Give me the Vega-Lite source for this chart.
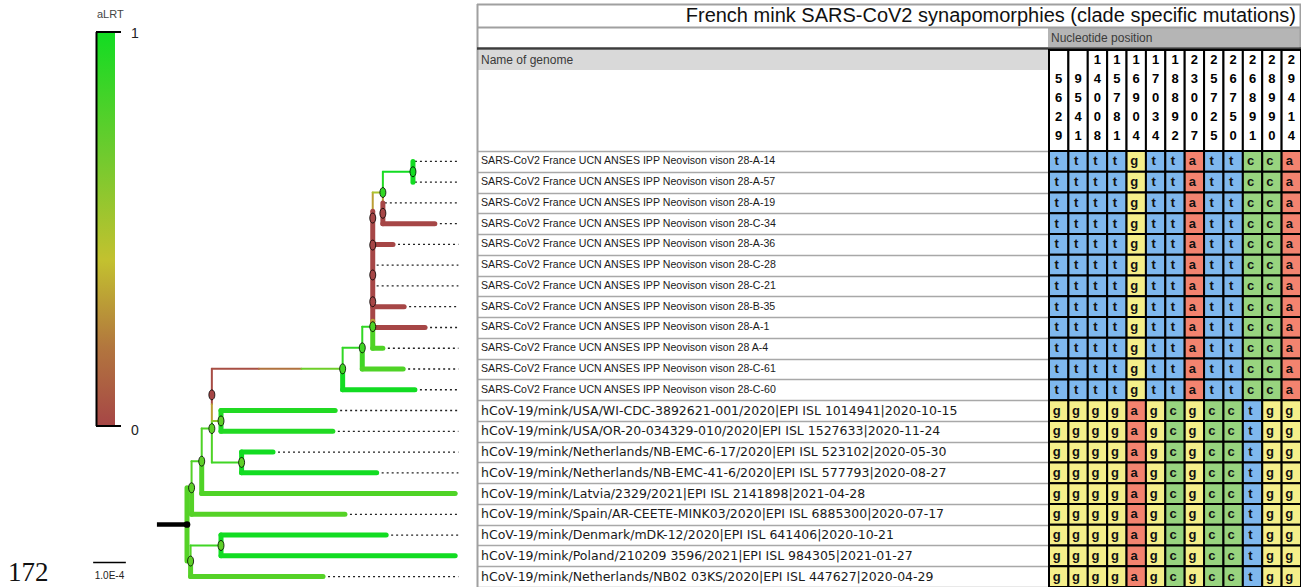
{
"$schema": "https://vega.github.io/schema/vega-lite/v6.json",
"width": 1301, "height": 587, "autosize": {"type": "none"}, "padding": 0,
"background": "white",
"config": {"view": {"stroke": null}, "font": "Liberation Sans"},
"datasets": {
"positions": [{"p":"5629"},{"p":"9541"},{"p":"14008"},{"p":"15781"},{"p":"16904"},{"p":"17034"},{"p":"18892"},{"p":"23007"},{"p":"25725"},{"p":"26750"},{"p":"26891"},{"p":"28990"},{"p":"29414"}],
"genomes": [
{"i":1,"name":"SARS-CoV2 France UCN ANSES IPP Neovison vison 28-A-14","depth":6.97},
{"i":2,"name":"SARS-CoV2 France UCN ANSES IPP Neovison vison 28-A-57","depth":6.97},
{"i":3,"name":"SARS-CoV2 France UCN ANSES IPP Neovison vison 28-A-19","depth":6.05},
{"i":4,"name":"SARS-CoV2 France UCN ANSES IPP Neovison vison 28-C-34","depth":7.58},
{"i":5,"name":"SARS-CoV2 France UCN ANSES IPP Neovison vison 28-A-36","depth":6.3},
{"i":6,"name":"SARS-CoV2 France UCN ANSES IPP Neovison vison 28-C-28","depth":5.8},
{"i":7,"name":"SARS-CoV2 France UCN ANSES IPP Neovison vison 28-C-21","depth":5.8},
{"i":8,"name":"SARS-CoV2 France UCN ANSES IPP Neovison vison 28-B-35","depth":6.64},
{"i":9,"name":"SARS-CoV2 France UCN ANSES IPP Neovison vison 28-A-1","depth":7.28},
{"i":10,"name":"SARS-CoV2 France UCN ANSES IPP Neovison vison 28 A-4","depth":5.99},
{"i":11,"name":"SARS-CoV2 France UCN ANSES IPP Neovison vison 28-C-61","depth":6.61},
{"i":12,"name":"SARS-CoV2 France UCN ANSES IPP Neovison vison 28-C-60","depth":6.97},
{"i":13,"name":"hCoV-19/mink/USA/WI-CDC-3892621-001/2020|EPI ISL 1014941|2020-10-15","depth":4.53},
{"i":14,"name":"hCoV-19/mink/USA/OR-20-034329-010/2020|EPI ISL 1527633|2020-11-24","depth":4.46},
{"i":15,"name":"hCoV-19/mink/Netherlands/NB-EMC-6-17/2020|EPI ISL 523102|2020-05-30","depth":2.63},
{"i":16,"name":"hCoV-19/mink/Netherlands/NB-EMC-41-6/2020|EPI ISL 577793|2020-08-27","depth":5.8},
{"i":17,"name":"hCoV-19/mink/Latvia/2329/2021|EPI ISL 2141898|2021-04-28","depth":8.2},
{"i":18,"name":"hCoV-19/mink/Spain/AR-CEETE-MINK03/2020|EPI ISL 6885300|2020-07-17","depth":4.83},
{"i":19,"name":"hCoV-19/mink/Denmark/mDK-12/2020|EPI ISL 641406|2020-10-21","depth":6.09},
{"i":20,"name":"hCoV-19/mink/Poland/210209 3596/2021|EPI ISL 984305|2021-01-27","depth":8.2},
{"i":21,"name":"hCoV-19/mink/Netherlands/NB02 03KS/2020|EPI ISL 447627|2020-04-29","depth":4.16}
],
"cells": [
{"i":1,"p":"5629","b":"t"},{"i":1,"p":"9541","b":"t"},{"i":1,"p":"14008","b":"t"},{"i":1,"p":"15781","b":"t"},{"i":1,"p":"16904","b":"g"},{"i":1,"p":"17034","b":"t"},{"i":1,"p":"18892","b":"t"},{"i":1,"p":"23007","b":"a"},{"i":1,"p":"25725","b":"t"},{"i":1,"p":"26750","b":"t"},{"i":1,"p":"26891","b":"c"},{"i":1,"p":"28990","b":"c"},{"i":1,"p":"29414","b":"a"},
{"i":2,"p":"5629","b":"t"},{"i":2,"p":"9541","b":"t"},{"i":2,"p":"14008","b":"t"},{"i":2,"p":"15781","b":"t"},{"i":2,"p":"16904","b":"g"},{"i":2,"p":"17034","b":"t"},{"i":2,"p":"18892","b":"t"},{"i":2,"p":"23007","b":"a"},{"i":2,"p":"25725","b":"t"},{"i":2,"p":"26750","b":"t"},{"i":2,"p":"26891","b":"c"},{"i":2,"p":"28990","b":"c"},{"i":2,"p":"29414","b":"a"},
{"i":3,"p":"5629","b":"t"},{"i":3,"p":"9541","b":"t"},{"i":3,"p":"14008","b":"t"},{"i":3,"p":"15781","b":"t"},{"i":3,"p":"16904","b":"g"},{"i":3,"p":"17034","b":"t"},{"i":3,"p":"18892","b":"t"},{"i":3,"p":"23007","b":"a"},{"i":3,"p":"25725","b":"t"},{"i":3,"p":"26750","b":"t"},{"i":3,"p":"26891","b":"c"},{"i":3,"p":"28990","b":"c"},{"i":3,"p":"29414","b":"a"},
{"i":4,"p":"5629","b":"t"},{"i":4,"p":"9541","b":"t"},{"i":4,"p":"14008","b":"t"},{"i":4,"p":"15781","b":"t"},{"i":4,"p":"16904","b":"g"},{"i":4,"p":"17034","b":"t"},{"i":4,"p":"18892","b":"t"},{"i":4,"p":"23007","b":"a"},{"i":4,"p":"25725","b":"t"},{"i":4,"p":"26750","b":"t"},{"i":4,"p":"26891","b":"c"},{"i":4,"p":"28990","b":"c"},{"i":4,"p":"29414","b":"a"},
{"i":5,"p":"5629","b":"t"},{"i":5,"p":"9541","b":"t"},{"i":5,"p":"14008","b":"t"},{"i":5,"p":"15781","b":"t"},{"i":5,"p":"16904","b":"g"},{"i":5,"p":"17034","b":"t"},{"i":5,"p":"18892","b":"t"},{"i":5,"p":"23007","b":"a"},{"i":5,"p":"25725","b":"t"},{"i":5,"p":"26750","b":"t"},{"i":5,"p":"26891","b":"c"},{"i":5,"p":"28990","b":"c"},{"i":5,"p":"29414","b":"a"},
{"i":6,"p":"5629","b":"t"},{"i":6,"p":"9541","b":"t"},{"i":6,"p":"14008","b":"t"},{"i":6,"p":"15781","b":"t"},{"i":6,"p":"16904","b":"g"},{"i":6,"p":"17034","b":"t"},{"i":6,"p":"18892","b":"t"},{"i":6,"p":"23007","b":"a"},{"i":6,"p":"25725","b":"t"},{"i":6,"p":"26750","b":"t"},{"i":6,"p":"26891","b":"c"},{"i":6,"p":"28990","b":"c"},{"i":6,"p":"29414","b":"a"},
{"i":7,"p":"5629","b":"t"},{"i":7,"p":"9541","b":"t"},{"i":7,"p":"14008","b":"t"},{"i":7,"p":"15781","b":"t"},{"i":7,"p":"16904","b":"g"},{"i":7,"p":"17034","b":"t"},{"i":7,"p":"18892","b":"t"},{"i":7,"p":"23007","b":"a"},{"i":7,"p":"25725","b":"t"},{"i":7,"p":"26750","b":"t"},{"i":7,"p":"26891","b":"c"},{"i":7,"p":"28990","b":"c"},{"i":7,"p":"29414","b":"a"},
{"i":8,"p":"5629","b":"t"},{"i":8,"p":"9541","b":"t"},{"i":8,"p":"14008","b":"t"},{"i":8,"p":"15781","b":"t"},{"i":8,"p":"16904","b":"g"},{"i":8,"p":"17034","b":"t"},{"i":8,"p":"18892","b":"t"},{"i":8,"p":"23007","b":"a"},{"i":8,"p":"25725","b":"t"},{"i":8,"p":"26750","b":"t"},{"i":8,"p":"26891","b":"c"},{"i":8,"p":"28990","b":"c"},{"i":8,"p":"29414","b":"a"},
{"i":9,"p":"5629","b":"t"},{"i":9,"p":"9541","b":"t"},{"i":9,"p":"14008","b":"t"},{"i":9,"p":"15781","b":"t"},{"i":9,"p":"16904","b":"g"},{"i":9,"p":"17034","b":"t"},{"i":9,"p":"18892","b":"t"},{"i":9,"p":"23007","b":"a"},{"i":9,"p":"25725","b":"t"},{"i":9,"p":"26750","b":"t"},{"i":9,"p":"26891","b":"c"},{"i":9,"p":"28990","b":"c"},{"i":9,"p":"29414","b":"a"},
{"i":10,"p":"5629","b":"t"},{"i":10,"p":"9541","b":"t"},{"i":10,"p":"14008","b":"t"},{"i":10,"p":"15781","b":"t"},{"i":10,"p":"16904","b":"g"},{"i":10,"p":"17034","b":"t"},{"i":10,"p":"18892","b":"t"},{"i":10,"p":"23007","b":"a"},{"i":10,"p":"25725","b":"t"},{"i":10,"p":"26750","b":"t"},{"i":10,"p":"26891","b":"c"},{"i":10,"p":"28990","b":"c"},{"i":10,"p":"29414","b":"a"},
{"i":11,"p":"5629","b":"t"},{"i":11,"p":"9541","b":"t"},{"i":11,"p":"14008","b":"t"},{"i":11,"p":"15781","b":"t"},{"i":11,"p":"16904","b":"g"},{"i":11,"p":"17034","b":"t"},{"i":11,"p":"18892","b":"t"},{"i":11,"p":"23007","b":"a"},{"i":11,"p":"25725","b":"t"},{"i":11,"p":"26750","b":"t"},{"i":11,"p":"26891","b":"c"},{"i":11,"p":"28990","b":"c"},{"i":11,"p":"29414","b":"a"},
{"i":12,"p":"5629","b":"t"},{"i":12,"p":"9541","b":"t"},{"i":12,"p":"14008","b":"t"},{"i":12,"p":"15781","b":"t"},{"i":12,"p":"16904","b":"g"},{"i":12,"p":"17034","b":"t"},{"i":12,"p":"18892","b":"t"},{"i":12,"p":"23007","b":"a"},{"i":12,"p":"25725","b":"t"},{"i":12,"p":"26750","b":"t"},{"i":12,"p":"26891","b":"c"},{"i":12,"p":"28990","b":"c"},{"i":12,"p":"29414","b":"a"},
{"i":13,"p":"5629","b":"g"},{"i":13,"p":"9541","b":"g"},{"i":13,"p":"14008","b":"g"},{"i":13,"p":"15781","b":"g"},{"i":13,"p":"16904","b":"a"},{"i":13,"p":"17034","b":"g"},{"i":13,"p":"18892","b":"c"},{"i":13,"p":"23007","b":"g"},{"i":13,"p":"25725","b":"c"},{"i":13,"p":"26750","b":"c"},{"i":13,"p":"26891","b":"t"},{"i":13,"p":"28990","b":"g"},{"i":13,"p":"29414","b":"g"},
{"i":14,"p":"5629","b":"g"},{"i":14,"p":"9541","b":"g"},{"i":14,"p":"14008","b":"g"},{"i":14,"p":"15781","b":"g"},{"i":14,"p":"16904","b":"a"},{"i":14,"p":"17034","b":"g"},{"i":14,"p":"18892","b":"c"},{"i":14,"p":"23007","b":"g"},{"i":14,"p":"25725","b":"c"},{"i":14,"p":"26750","b":"c"},{"i":14,"p":"26891","b":"t"},{"i":14,"p":"28990","b":"g"},{"i":14,"p":"29414","b":"g"},
{"i":15,"p":"5629","b":"g"},{"i":15,"p":"9541","b":"g"},{"i":15,"p":"14008","b":"g"},{"i":15,"p":"15781","b":"g"},{"i":15,"p":"16904","b":"a"},{"i":15,"p":"17034","b":"g"},{"i":15,"p":"18892","b":"c"},{"i":15,"p":"23007","b":"g"},{"i":15,"p":"25725","b":"c"},{"i":15,"p":"26750","b":"c"},{"i":15,"p":"26891","b":"t"},{"i":15,"p":"28990","b":"g"},{"i":15,"p":"29414","b":"g"},
{"i":16,"p":"5629","b":"g"},{"i":16,"p":"9541","b":"g"},{"i":16,"p":"14008","b":"g"},{"i":16,"p":"15781","b":"g"},{"i":16,"p":"16904","b":"a"},{"i":16,"p":"17034","b":"g"},{"i":16,"p":"18892","b":"c"},{"i":16,"p":"23007","b":"g"},{"i":16,"p":"25725","b":"c"},{"i":16,"p":"26750","b":"c"},{"i":16,"p":"26891","b":"t"},{"i":16,"p":"28990","b":"g"},{"i":16,"p":"29414","b":"g"},
{"i":17,"p":"5629","b":"g"},{"i":17,"p":"9541","b":"g"},{"i":17,"p":"14008","b":"g"},{"i":17,"p":"15781","b":"g"},{"i":17,"p":"16904","b":"a"},{"i":17,"p":"17034","b":"g"},{"i":17,"p":"18892","b":"c"},{"i":17,"p":"23007","b":"g"},{"i":17,"p":"25725","b":"c"},{"i":17,"p":"26750","b":"c"},{"i":17,"p":"26891","b":"t"},{"i":17,"p":"28990","b":"g"},{"i":17,"p":"29414","b":"g"},
{"i":18,"p":"5629","b":"g"},{"i":18,"p":"9541","b":"g"},{"i":18,"p":"14008","b":"g"},{"i":18,"p":"15781","b":"g"},{"i":18,"p":"16904","b":"a"},{"i":18,"p":"17034","b":"g"},{"i":18,"p":"18892","b":"c"},{"i":18,"p":"23007","b":"g"},{"i":18,"p":"25725","b":"c"},{"i":18,"p":"26750","b":"c"},{"i":18,"p":"26891","b":"t"},{"i":18,"p":"28990","b":"g"},{"i":18,"p":"29414","b":"g"},
{"i":19,"p":"5629","b":"g"},{"i":19,"p":"9541","b":"g"},{"i":19,"p":"14008","b":"g"},{"i":19,"p":"15781","b":"g"},{"i":19,"p":"16904","b":"a"},{"i":19,"p":"17034","b":"g"},{"i":19,"p":"18892","b":"c"},{"i":19,"p":"23007","b":"g"},{"i":19,"p":"25725","b":"c"},{"i":19,"p":"26750","b":"c"},{"i":19,"p":"26891","b":"t"},{"i":19,"p":"28990","b":"g"},{"i":19,"p":"29414","b":"g"},
{"i":20,"p":"5629","b":"g"},{"i":20,"p":"9541","b":"g"},{"i":20,"p":"14008","b":"g"},{"i":20,"p":"15781","b":"g"},{"i":20,"p":"16904","b":"a"},{"i":20,"p":"17034","b":"g"},{"i":20,"p":"18892","b":"c"},{"i":20,"p":"23007","b":"g"},{"i":20,"p":"25725","b":"c"},{"i":20,"p":"26750","b":"c"},{"i":20,"p":"26891","b":"t"},{"i":20,"p":"28990","b":"g"},{"i":20,"p":"29414","b":"g"},
{"i":21,"p":"5629","b":"g"},{"i":21,"p":"9541","b":"g"},{"i":21,"p":"14008","b":"g"},{"i":21,"p":"15781","b":"g"},{"i":21,"p":"16904","b":"a"},{"i":21,"p":"17034","b":"g"},{"i":21,"p":"18892","b":"c"},{"i":21,"p":"23007","b":"g"},{"i":21,"p":"25725","b":"c"},{"i":21,"p":"26750","b":"c"},{"i":21,"p":"26891","b":"t"},{"i":21,"p":"28990","b":"g"},{"i":21,"p":"29414","b":"g"}
],
"branches": [
{"x":0,"x2":0,"y":16.72,"y2":20.25,"s":0.78,"k":"thick"},
{"x":0,"x2":0.14,"y":16.72,"y2":16.72,"s":0.78,"k":"thin"},
{"x":0.14,"x2":0.14,"y":15.44,"y2":16.72,"s":0.78,"k":"thin"},
{"x":0.14,"x2":0.14,"y":16.72,"y2":18,"s":0.78,"k":"thick"},
{"x":0.14,"x2":4.83,"y":18,"y2":18,"s":0.78,"k":"thick"},
{"x":0.14,"x2":0.45,"y":15.44,"y2":15.44,"s":0.8,"k":"thin"},
{"x":0.45,"x2":0.45,"y":13.87,"y2":15.44,"s":0.8,"k":"thin"},
{"x":0.45,"x2":0.45,"y":15.44,"y2":17,"s":0.8,"k":"thick"},
{"x":0.45,"x2":8.2,"y":17,"y2":17,"s":0.8,"k":"thick"},
{"x":0.45,"x2":0.76,"y":13.87,"y2":13.87,"s":0.8,"k":"thin"},
{"x":0.76,"x2":0.76,"y":13.5,"y2":15.5,"s":0.8,"k":"thin"},
{"x":0.76,"x2":1.67,"y":15.5,"y2":15.5,"s":0.85,"k":"thin"},
{"x":1.67,"x2":1.67,"y":15,"y2":16,"s":1,"k":"thick"},
{"x":1.67,"x2":2.63,"y":15,"y2":15,"s":1,"k":"thick"},
{"x":1.67,"x2":5.8,"y":16,"y2":16,"s":1,"k":"thick"},
{"x":0.76,"x2":0.76,"y":10.99,"y2":12.7,"s":0.02,"k":"thin"},
{"x":0.76,"x2":0.76,"y":12.7,"y2":13.5,"s":0.3,"k":"thin"},
{"x":0.76,"x2":1.04,"y":13.5,"y2":13.5,"s":0.6,"k":"thin"},
{"x":1.04,"x2":1.04,"y":13,"y2":14,"s":0.95,"k":"thick"},
{"x":1.04,"x2":4.53,"y":13,"y2":13,"s":0.95,"k":"thick"},
{"x":1.04,"x2":4.46,"y":14,"y2":14,"s":0.95,"k":"thick"},
{"x":0.76,"x2":2.2,"y":10.99,"y2":10.99,"s":0.03,"k":"thin"},
{"x":2.2,"x2":3.5,"y":10.99,"y2":10.99,"s":0.15,"k":"thin"},
{"x":3.5,"x2":4.76,"y":10.99,"y2":10.99,"s":0.7,"k":"thin"},
{"x":4.76,"x2":4.76,"y":9.98,"y2":10.99,"s":0.9,"k":"thin"},
{"x":4.76,"x2":4.76,"y":10.99,"y2":12,"s":1,"k":"thick"},
{"x":4.76,"x2":6.97,"y":12,"y2":12,"s":1,"k":"thick"},
{"x":4.76,"x2":5.36,"y":9.98,"y2":9.98,"s":0.9,"k":"thin"},
{"x":5.36,"x2":5.36,"y":8.96,"y2":9.98,"s":0.9,"k":"thin"},
{"x":5.36,"x2":5.36,"y":9.98,"y2":11,"s":0.85,"k":"thick"},
{"x":5.36,"x2":6.61,"y":11,"y2":11,"s":0.8,"k":"thick"},
{"x":5.36,"x2":5.68,"y":8.96,"y2":8.96,"s":0.9,"k":"thin"},
{"x":5.68,"x2":5.68,"y":2.5,"y2":3.4,"s":0.3,"k":"thin"},
{"x":5.68,"x2":5.68,"y":3.4,"y2":8.7,"s":0,"k":"thick"},
{"x":5.68,"x2":5.68,"y":8.7,"y2":8.96,"s":0.3,"k":"thick"},
{"x":5.68,"x2":5.68,"y":8.96,"y2":10,"s":0.8,"k":"thick"},
{"x":5.68,"x2":5.99,"y":10,"y2":10,"s":0.8,"k":"thick"},
{"x":5.68,"x2":7.28,"y":9,"y2":9,"s":0,"k":"thick"},
{"x":5.68,"x2":6.64,"y":8,"y2":8,"s":0,"k":"thick"},
{"x":5.68,"x2":6.3,"y":5,"y2":5,"s":0,"k":"thick"},
{"x":5.68,"x2":5.99,"y":2.5,"y2":2.5,"s":0.5,"k":"thin"},
{"x":5.99,"x2":5.99,"y":1.5,"y2":2.5,"s":0.95,"k":"thin"},
{"x":5.99,"x2":5.99,"y":2.5,"y2":3,"s":0.3,"k":"thin"},
{"x":5.99,"x2":5.99,"y":3,"y2":4,"s":0,"k":"thick"},
{"x":5.99,"x2":7.58,"y":4,"y2":4,"s":0,"k":"thick"},
{"x":5.99,"x2":6.91,"y":1.5,"y2":1.5,"s":1,"k":"thin"},
{"x":6.91,"x2":6.91,"y":1,"y2":2,"s":1,"k":"thick"},
{"x":0,"x2":0.11,"y":20.25,"y2":20.25,"s":0.78,"k":"thin"},
{"x":0.11,"x2":0.11,"y":19.5,"y2":20.25,"s":0.78,"k":"thin"},
{"x":0.11,"x2":0.11,"y":20.25,"y2":21,"s":0.78,"k":"thick"},
{"x":0.11,"x2":4.16,"y":21,"y2":21,"s":0.78,"k":"thick"},
{"x":0.11,"x2":1.04,"y":19.5,"y2":19.5,"s":0.85,"k":"thin"},
{"x":1.04,"x2":1.04,"y":19,"y2":20,"s":1,"k":"thick"},
{"x":1.04,"x2":6.09,"y":19,"y2":19,"s":1,"k":"thick"},
{"x":1.04,"x2":8.2,"y":20,"y2":20,"s":1,"k":"thick"}
],
"nodes": [
{"x":6.91,"y":1.5,"s":1},{"x":5.99,"y":2.5,"s":0.9},{"x":5.99,"y":3.5,"s":0},
{"x":5.68,"y":3.73,"s":0},{"x":5.68,"y":5.03,"s":0},{"x":5.68,"y":6.47,"s":0},{"x":5.68,"y":7.76,"s":0},{"x":5.68,"y":8.96,"s":0.8},
{"x":5.36,"y":9.98,"s":0.85},{"x":4.76,"y":10.99,"s":0.85},{"x":0.76,"y":12.245,"s":0},{"x":1.04,"y":13.5,"s":0.75},
{"x":0.76,"y":13.87,"s":0.75},{"x":1.67,"y":15.5,"s":0.75},{"x":0.45,"y":15.44,"s":0.75},{"x":0.14,"y":16.72,"s":0.75},
{"x":1.04,"y":19.5,"s":0.75},{"x":0.11,"y":20.25,"s":0.75}
]
},
"resolve": {"scale": {"x": "independent", "y": "independent", "color": "independent", "fill": "independent", "size": "independent"}, "axis": {"x": "independent", "y": "independent"}},
"layer": [
{
"layer": [
{"data": {"values": [{"x":1048,"x2":1301,"y":28,"y2":47}]}, "mark": {"type": "rect", "fill": "#b5b5b5"},
 "encoding": {"x": {"field": "x", "type": "quantitative", "scale": {"domain": [0,1301], "range": [0,1301], "zero": false, "nice": false}, "axis": null}, "x2": {"field": "x2"},
  "y": {"field": "y", "type": "quantitative", "scale": {"domain": [0,587], "range": [0,587], "zero": false, "nice": false}, "axis": null}, "y2": {"field": "y2"}}},
{"data": {"values": [{"x":477,"x2":1048,"y":50,"y2":70}]}, "mark": {"type": "rect", "fill": "#d9d9d9"},
 "encoding": {"x": {"field": "x", "type": "quantitative", "scale": {"domain": [0,1301], "range": [0,1301], "zero": false, "nice": false}, "axis": null}, "x2": {"field": "x2"},
  "y": {"field": "y", "type": "quantitative", "scale": {"domain": [0,587], "range": [0,587], "zero": false, "nice": false}, "axis": null}, "y2": {"field": "y2"}}},
{"data": {"values": [{"x":96,"x2":115,"y":32,"y2":426}]}, "mark": {"type": "rect", "fill": {"gradient": "linear", "x1": 0, "y1": 0, "x2": 0, "y2": 1, "stops": [{"offset": 0, "color": "#12dc22"}, {"offset": 0.3, "color": "#6ccb2e"}, {"offset": 0.58, "color": "#c3c12f"}, {"offset": 0.8, "color": "#b2763e"}, {"offset": 1, "color": "#a64646"}]}},
 "encoding": {"x": {"field": "x", "type": "quantitative", "scale": {"domain": [0,1301], "range": [0,1301], "zero": false, "nice": false}, "axis": null}, "x2": {"field": "x2"},
  "y": {"field": "y", "type": "quantitative", "scale": {"domain": [0,587], "range": [0,587], "zero": false, "nice": false}, "axis": null}, "y2": {"field": "y2"}}},
{"data": {"values": [{"x":477,"x2":1301,"y":4.5,"y2":4.5},{"x":477,"x2":1301,"y":27.5,"y2":27.5},{"x":477.5,"x2":477.5,"y":4,"y2":587},{"x":1300.5,"x2":1300.5,"y":4,"y2":587}]}, "mark": {"type": "rule", "color": "#a0a0a0", "strokeWidth": 2},
 "encoding": {"x": {"field": "x", "type": "quantitative", "scale": {"domain": [0,1301], "range": [0,1301], "zero": false, "nice": false}, "axis": null}, "x2": {"field": "x2"},
  "y": {"field": "y", "type": "quantitative", "scale": {"domain": [0,587], "range": [0,587], "zero": false, "nice": false}, "axis": null}, "y2": {"field": "y2"}}},
{"data": {"values": [{"x":477,"x2":1301,"y":48.5,"y2":48.5}]}, "mark": {"type": "rule", "color": "#3c3c3c", "strokeWidth": 2.5},
 "encoding": {"x": {"field": "x", "type": "quantitative", "scale": {"domain": [0,1301], "range": [0,1301], "zero": false, "nice": false}, "axis": null}, "x2": {"field": "x2"},
  "y": {"field": "y", "type": "quantitative", "scale": {"domain": [0,587], "range": [0,587], "zero": false, "nice": false}, "axis": null}, "y2": {"field": "y2"}}},
{"data": {"values": [{"x":96.5,"x2":96.5,"y":32,"y2":426},{"x":96,"x2":121,"y":32,"y2":32},{"x":96,"x2":121,"y":426,"y2":426}]}, "mark": {"type": "rule", "color": "#000", "strokeWidth": 2},
 "encoding": {"x": {"field": "x", "type": "quantitative", "scale": {"domain": [0,1301], "range": [0,1301], "zero": false, "nice": false}, "axis": null}, "x2": {"field": "x2"},
  "y": {"field": "y", "type": "quantitative", "scale": {"domain": [0,587], "range": [0,587], "zero": false, "nice": false}, "axis": null}, "y2": {"field": "y2"}}},
{"data": {"values": [{"x":1296,"y":16,"t":"French mink SARS-CoV2 synapomorphies (clade specific mutations)"}]}, "mark": {"type": "text", "align": "right", "baseline": "middle", "fontSize": 20, "color": "#111"},
 "encoding": {"x": {"field": "x", "type": "quantitative", "scale": {"domain": [0,1301], "range": [0,1301], "zero": false, "nice": false}, "axis": null},
  "y": {"field": "y", "type": "quantitative", "scale": {"domain": [0,587], "range": [0,587], "zero": false, "nice": false}, "axis": null}, "text": {"field": "t"}}},
{"data": {"values": [{"x":1051,"y":37.5,"t":"Nucleotide position"},{"x":481,"y":60,"t":"Name of genome"}]}, "mark": {"type": "text", "align": "left", "baseline": "middle", "fontSize": 12, "color": "#3a3a3a"},
 "encoding": {"x": {"field": "x", "type": "quantitative", "scale": {"domain": [0,1301], "range": [0,1301], "zero": false, "nice": false}, "axis": null},
  "y": {"field": "y", "type": "quantitative", "scale": {"domain": [0,587], "range": [0,587], "zero": false, "nice": false}, "axis": null}, "text": {"field": "t"}}},
{"data": {"values": [{"x":97,"y":15,"t":"aLRT"}]}, "mark": {"type": "text", "align": "left", "baseline": "middle", "fontSize": 11, "color": "#444"},
 "encoding": {"x": {"field": "x", "type": "quantitative", "scale": {"domain": [0,1301], "range": [0,1301], "zero": false, "nice": false}, "axis": null},
  "y": {"field": "y", "type": "quantitative", "scale": {"domain": [0,587], "range": [0,587], "zero": false, "nice": false}, "axis": null}, "text": {"field": "t"}}},
{"data": {"values": [{"x":131,"y":34,"t":"1"},{"x":131,"y":431,"t":"0"}]}, "mark": {"type": "text", "align": "left", "baseline": "middle", "fontSize": 14, "color": "#222"},
 "encoding": {"x": {"field": "x", "type": "quantitative", "scale": {"domain": [0,1301], "range": [0,1301], "zero": false, "nice": false}, "axis": null},
  "y": {"field": "y", "type": "quantitative", "scale": {"domain": [0,587], "range": [0,587], "zero": false, "nice": false}, "axis": null}, "text": {"field": "t"}}},
{"data": {"values": [{"x":8,"y":573,"t":"172"}]}, "mark": {"type": "text", "align": "left", "baseline": "middle", "fontSize": 27, "font": "Liberation Serif", "color": "#111"},
 "encoding": {"x": {"field": "x", "type": "quantitative", "scale": {"domain": [0,1301], "range": [0,1301], "zero": false, "nice": false}, "axis": null},
  "y": {"field": "y", "type": "quantitative", "scale": {"domain": [0,587], "range": [0,587], "zero": false, "nice": false}, "axis": null}, "text": {"field": "t"}}}
]
},
{
"data": {"name": "positions"},
"mark": {"type": "rect", "fill": "white", "stroke": "black", "strokeWidth": 2},
"encoding": {
 "x": {"field": "p", "type": "ordinal", "scale": {"type": "band", "domain": ["5629","9541","14008","15781","16904","17034","18892","23007","25725","26750","26891","28990","29414"], "range": [1049,1301], "paddingInner": 0, "paddingOuter": 0},
  "axis": {"orient": "top", "offset": -53, "ticks": false, "domain": false, "grid": false, "labelAngle": 0, "labelExpr": "split(length(datum.label) < 5 ? ' ' + datum.label : datum.label, '')", "labelFontSize": 13, "labelFontWeight": "bold", "labelColor": "#000", "labelLineHeight": 19, "labelPadding": 0, "labelBaseline": "top", "title": null, "labelOverlap": false, "labelBound": false, "labelFlush": false}},
 "y": {"datum": 50, "type": "quantitative", "scale": {"domain": [0,587], "range": [0,587], "zero": false, "nice": false}, "axis": null},
 "y2": {"datum": 151}
}
},
{
"data": {"name": "cells"},
"layer": [
{"mark": {"type": "rect", "stroke": "black", "strokeWidth": 2},
 "encoding": {
  "x": {"field": "p", "type": "ordinal", "scale": {"type": "band", "domain": ["5629","9541","14008","15781","16904","17034","18892","23007","25725","26750","26891","28990","29414"], "range": [1049,1301], "paddingInner": 0, "paddingOuter": 0}, "axis": null},
  "y": {"field": "i", "type": "ordinal", "scale": {"type": "band", "range": [151,587], "paddingInner": 0, "paddingOuter": 0}, "axis": null},
  "fill": {"field": "b", "type": "nominal", "scale": {"domain": ["a","c","g","t"], "range": ["#f3836f","#98d47f","#f5ef8a","#7fb8ee"]}, "legend": null}}},
{"mark": {"type": "text", "fontSize": 13, "fontWeight": "bold", "color": "#111", "dx": -2, "dy": 0},
 "encoding": {
  "x": {"field": "p", "type": "ordinal", "scale": {"type": "band", "domain": ["5629","9541","14008","15781","16904","17034","18892","23007","25725","26750","26891","28990","29414"], "range": [1049,1301], "paddingInner": 0, "paddingOuter": 0}, "axis": null},
  "y": {"field": "i", "type": "ordinal", "scale": {"type": "band", "range": [151,587], "paddingInner": 0, "paddingOuter": 0}, "axis": null},
  "text": {"field": "b"}}}
]
},
{
"data": {"name": "genomes"},
"mark": {"type": "rule", "strokeDash": [2,3], "color": "#222", "strokeWidth": 1.3},
"encoding": {
 "x": {"field": "depth", "type": "quantitative", "scale": {"domain": [0,10], "range": [187,514], "zero": false, "nice": false}, "axis": null},
 "x2": {"datum": 8.3},
 "y": {"field": "i", "type": "ordinal", "scale": {"type": "band", "domain": [1,2,3,4,5,6,7,8,9,10,11,12,13,14,15,16,17,18,19,20,21], "range": [151,587], "paddingInner": 0, "paddingOuter": 0},
  "axis": {"orient": "left", "offset": -1048, "domain": false, "ticks": true, "tickBand": "extent", "tickSize": 571, "tickColor": "#a8a8a8", "tickWidth": 1.5, "labels": false, "title": null, "grid": false}}
}
},
{
"data": {"name": "genomes"},
"transform": [{"filter": "datum.i <= 12"}],
"mark": {"type": "rule", "strokeDash": [2,3], "color": "#222", "strokeWidth": 1.3, "opacity": 0},
"encoding": {
 "x": {"field": "depth", "type": "quantitative", "scale": {"domain": [0,10], "range": [187,514], "zero": false, "nice": false}, "axis": null},
 "x2": {"datum": 8.3},
 "y": {"field": "name", "type": "ordinal", "sort": null, "scale": {"type": "band", "range": [151,400.12], "paddingInner": 0, "paddingOuter": 0},
  "axis": {"orient": "left", "offset": -1048, "domain": false, "ticks": false, "labelAlign": "left", "labelBaseline": "middle", "labelPadding": 567.5, "labelFontSize": 10.6, "labelFont": "Liberation Sans", "labelColor": "#1a1a1a", "labelLimit": 0, "title": null, "grid": false, "labelOverlap": false, "labelBound": false}}
}
},
{
"data": {"name": "genomes"},
"transform": [{"filter": "datum.i > 12"}],
"mark": {"type": "rule", "strokeDash": [2,3], "color": "#222", "strokeWidth": 1.3, "opacity": 0},
"encoding": {
 "x": {"field": "depth", "type": "quantitative", "scale": {"domain": [0,10], "range": [187,514], "zero": false, "nice": false}, "axis": null},
 "x2": {"datum": 8.3},
 "y": {"field": "name", "type": "ordinal", "sort": null, "scale": {"type": "band", "range": [400.12,587], "paddingInner": 0, "paddingOuter": 0},
  "axis": {"orient": "left", "offset": -1048, "domain": false, "ticks": false, "labelAlign": "left", "labelBaseline": "middle", "labelPadding": 567.5, "labelFontSize": 12.5, "labelFont": "DejaVu Sans", "labelColor": "#1a1a1a", "labelLimit": 0, "title": null, "grid": false, "labelOverlap": false, "labelBound": false}}
}
},
{
"layer": [
{"data": {"name": "branches"}, "mark": {"type": "rule", "strokeCap": "round"},
 "encoding": {
  "x": {"field": "x", "type": "quantitative", "scale": {"domain": [0,10], "range": [187,514], "zero": false, "nice": false}, "axis": null},
  "x2": {"field": "x2"},
  "y": {"field": "y", "type": "quantitative", "scale": {"domain": [0.5,21.5], "range": [151,587], "zero": false, "nice": false}, "axis": null},
  "y2": {"field": "y2"},
  "color": {"field": "s", "type": "quantitative", "scale": {"type": "linear", "domain": [0,0.42,1], "range": ["#a64646","#c3c12f","#12dc22"], "interpolate": "rgb"}, "legend": null},
  "size": {"field": "k", "type": "nominal", "scale": {"domain": ["thick","thin"], "range": [5,2]}, "legend": null}}},
{"data": {"name": "nodes"}, "mark": {"type": "point", "filled": true, "opacity": 1, "shape": "M0,-1A0.6,1,0,1,1,0,1A0.6,1,0,1,1,0,-1Z", "size": 100, "stroke": "#000", "strokeWidth": 0.8},
 "encoding": {
  "x": {"field": "x", "type": "quantitative", "scale": {"domain": [0,10], "range": [187,514], "zero": false, "nice": false}, "axis": null},
  "y": {"field": "y", "type": "quantitative", "scale": {"domain": [0.5,21.5], "range": [151,587], "zero": false, "nice": false}, "axis": null},
  "color": {"field": "s", "type": "quantitative", "scale": {"type": "linear", "domain": [0,0.42,1], "range": ["#a64646","#c3c12f","#12dc22"], "interpolate": "rgb"}, "legend": null}}},
{"data": {"values": [{"x":-0.92,"x2":0,"y":18.49}]}, "mark": {"type": "rule", "color": "#000", "strokeWidth": 4.5},
 "encoding": {
  "x": {"field": "x", "type": "quantitative", "scale": {"domain": [0,10], "range": [187,514], "zero": false, "nice": false}, "axis": null},
  "x2": {"field": "x2"},
  "y": {"field": "y", "type": "quantitative", "scale": {"domain": [0.5,21.5], "range": [151,587], "zero": false, "nice": false}, "axis": null}}},
{"data": {"values": [{"x":0,"y":18.49}]}, "mark": {"type": "point", "filled": true, "opacity": 1, "color": "#000", "shape": "circle", "size": 45},
 "encoding": {
  "x": {"field": "x", "type": "quantitative", "scale": {"domain": [0,10], "range": [187,514], "zero": false, "nice": false}, "axis": null},
  "y": {"field": "y", "type": "quantitative", "scale": {"domain": [0.5,21.5], "range": [151,587], "zero": false, "nice": false}, "axis": null}}},
{"data": {"values": [{"x":-2.87,"x2":-1.87,"y":20.32}]}, "mark": {"type": "rule", "color": "#000", "strokeWidth": 1.5},
 "encoding": {
  "x": {"field": "x", "type": "quantitative", "scale": {"domain": [0,10], "range": [187,514], "zero": false, "nice": false}, "axis": null},
  "x2": {"field": "x2"},
  "y": {"field": "y", "type": "quantitative", "scale": {"domain": [0.5,21.5], "range": [151,587], "zero": false, "nice": false}, "axis": null}}},
{"data": {"values": [{"x":-2.37,"y":20.97,"t":"1.0E-4"}]}, "mark": {"type": "text", "fontSize": 10, "color": "#222", "align": "center", "baseline": "middle"},
 "encoding": {
  "x": {"field": "x", "type": "quantitative", "scale": {"domain": [0,10], "range": [187,514], "zero": false, "nice": false}, "axis": null},
  "y": {"field": "y", "type": "quantitative", "scale": {"domain": [0.5,21.5], "range": [151,587], "zero": false, "nice": false}, "axis": null},
  "text": {"field": "t"}}}
]
}
]
}
